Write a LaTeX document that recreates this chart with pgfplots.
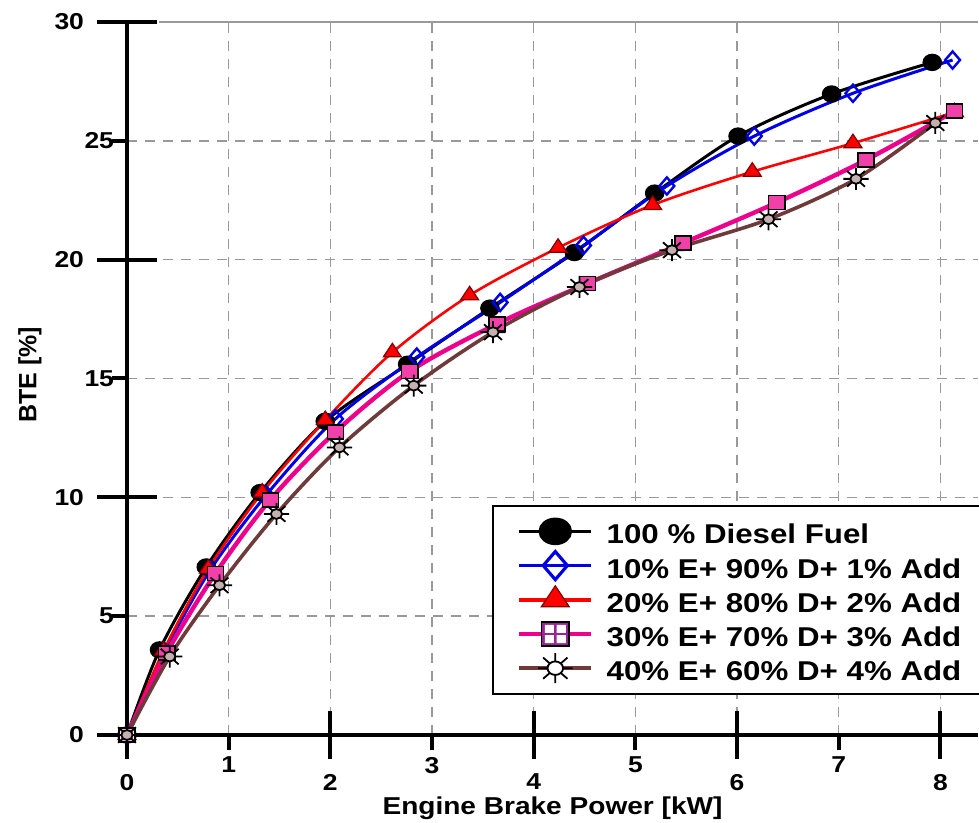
\documentclass[border=0pt]{standalone}
\usepackage{pgfplots}
\pgfplotsset{compat=1.18}
\usepackage{pgfplotstable}
\usepackage{fontspec}
\setmainfont{Liberation Sans}[FakeStretch=1.15]
\newfontfamily\plainsans{Liberation Sans}

\definecolor{bluel}{RGB}{0,0,230}
\definecolor{brownl}{RGB}{110,58,58}
\definecolor{purp}{RGB}{150,40,150}
\colorlet{pane}{magenta!75!white}

% square with four panes
\pgfdeclareplotmark{window}{%
  \pgfpathrectangle{\pgfqpoint{-\pgfplotmarksize}{-\pgfplotmarksize}}{\pgfqpoint{2\pgfplotmarksize}{2\pgfplotmarksize}}%
  \pgfusepathqfillstroke
  \pgfsetfillcolor{pane}%
  \pgfpathrectangle{\pgfqpoint{-0.76\pgfplotmarksize}{-0.76\pgfplotmarksize}}{\pgfqpoint{0.66\pgfplotmarksize}{0.66\pgfplotmarksize}}%
  \pgfpathrectangle{\pgfqpoint{0.1\pgfplotmarksize}{-0.76\pgfplotmarksize}}{\pgfqpoint{0.66\pgfplotmarksize}{0.66\pgfplotmarksize}}%
  \pgfpathrectangle{\pgfqpoint{-0.76\pgfplotmarksize}{0.1\pgfplotmarksize}}{\pgfqpoint{0.66\pgfplotmarksize}{0.66\pgfplotmarksize}}%
  \pgfpathrectangle{\pgfqpoint{0.1\pgfplotmarksize}{0.1\pgfplotmarksize}}{\pgfqpoint{0.66\pgfplotmarksize}{0.66\pgfplotmarksize}}%
  \pgfusepathqfill
}
% circle with rays
\pgfdeclareplotmark{sun}{%
  \pgfpathmoveto{\pgfpointpolar{0}{0.45\pgfplotmarksize}}\pgfpathlineto{\pgfpointpolar{0}{\pgfplotmarksize}}%
  \pgfpathmoveto{\pgfpointpolar{45}{0.45\pgfplotmarksize}}\pgfpathlineto{\pgfpointpolar{45}{\pgfplotmarksize}}%
  \pgfpathmoveto{\pgfpointpolar{90}{0.45\pgfplotmarksize}}\pgfpathlineto{\pgfpointpolar{90}{\pgfplotmarksize}}%
  \pgfpathmoveto{\pgfpointpolar{135}{0.45\pgfplotmarksize}}\pgfpathlineto{\pgfpointpolar{135}{\pgfplotmarksize}}%
  \pgfpathmoveto{\pgfpointpolar{180}{0.45\pgfplotmarksize}}\pgfpathlineto{\pgfpointpolar{180}{\pgfplotmarksize}}%
  \pgfpathmoveto{\pgfpointpolar{225}{0.45\pgfplotmarksize}}\pgfpathlineto{\pgfpointpolar{225}{\pgfplotmarksize}}%
  \pgfpathmoveto{\pgfpointpolar{270}{0.45\pgfplotmarksize}}\pgfpathlineto{\pgfpointpolar{270}{\pgfplotmarksize}}%
  \pgfpathmoveto{\pgfpointpolar{315}{0.45\pgfplotmarksize}}\pgfpathlineto{\pgfpointpolar{315}{\pgfplotmarksize}}%
  \pgfusepathqstroke
  \pgfpathcircle{\pgfpointorigin}{0.45\pgfplotmarksize}%
  \pgfusepathqfillstroke
}

\pgfplotstableread{
x y
0 0
0.32 3.58
0.78 7.07
1.31 10.2
1.95 13.2
2.76 15.6
3.57 17.96
4.40 20.3
5.19 22.8
6.01 25.2
6.93 26.97
7.92 28.3
}\diesel
\pgfplotstableread{
x y
0 0
0.37 3.5
0.82 6.95
1.37 10.1
2.05 13.3
2.85 15.9
3.67 18.2
4.49 20.6
5.31 23.1
6.17 25.2
7.14 27.0
8.12 28.4
}\eten
\pgfplotstableread{
x y
0 0
0.36 3.55
0.80 7.0
1.33 10.2
1.95 13.25
2.61 16.1
3.37 18.5
4.24 20.5
5.17 22.3
6.15 23.7
7.14 24.9
8.14 26.2
}\etwenty
\pgfplotstableread{
x y
0 0
0.39 3.45
0.87 6.8
1.41 9.9
2.05 12.75
2.78 15.3
3.64 17.3
4.53 19.0
5.47 20.7
6.39 22.4
7.27 24.2
8.14 26.25
}\ethirty
\pgfplotstableread{
x y
0 0
0.42 3.3
0.91 6.3
1.47 9.3
2.09 12.1
2.82 14.7
3.60 16.95
4.45 18.85
5.36 20.4
6.31 21.7
7.17 23.4
7.95 25.75
}\eforty

\begin{document}
\begin{tikzpicture}
\useasboundingbox (-63.5pt,-44pt) rectangle (426pt,367.5pt);
\begin{axis}[
  at={(0,0)}, anchor=south west,
  scale only axis,
  width=425.5pt, height=356.5pt,
  xmin=0, xmax=8.37, ymin=0, ymax=30,
  clip=false,
  axis lines=left,
  axis line style={-, line width=2pt},
  xtick={1,2,...,8}, xticklabels={1,,3,,5,,7,},
  ytick={5,10,...,30}, yticklabels={5,,15,,25,},
  extra x ticks={0,2,4,6,8},
  extra y ticks={0,10,20,30},
  tick align=outside,
  major tick length=7.5pt,
  tick style={line width=2pt, black},
  extra x tick style={tick align=center, major tick length=24pt, grid=none,
    xticklabel style={yshift=-4pt}},
  extra y tick style={tick align=center, major tick length=30pt, grid=none,
    yticklabel style={xshift=-7.5pt}},
  grid=major,
  major grid style={gray!80, line width=0.7pt, dash pattern=on 5pt off 4pt},
  ticklabel style={font=\bfseries\fontsize{11.5}{13}\selectfont},
  yticklabel style={xshift=4.5pt},
  /pgf/number format/assume math mode=true,
  xlabel={Engine Brake Power [kW]},
  ylabel={BTE [\%]},
  xlabel style={at={(rel axis cs:0.5,0)}, anchor=base, yshift=-40pt,
    font=\bfseries\fontsize{12.2}{14}\selectfont},
  ylabel style={at={(rel axis cs:0,0.505)}, anchor=center, yshift=48.5pt,
    font=\plainsans\bfseries\fontsize{12.5}{14}\selectfont},
  legend image code/.code={\draw[mark repeat=2,mark phase=2]
    plot coordinates {(0pt,0pt) (18pt,0pt) (36pt,0pt)};},
  legend style={at={(rel axis cs:0.4289,0.3226)}, anchor=north west,
    draw=black, line width=0.9pt, inner xsep=12pt, inner ysep=5pt,
    font=\bfseries\fontsize{13.6}{14}\selectfont,
    nodes={inner sep=1.5pt, text height=12.5pt, text depth=0pt},
    row sep=1.6pt,
    /tikz/every odd column/.append style={column sep=5pt}},
  legend cell align=left,
]
\addplot[black, line width=1.5pt, smooth, mark=*, mark size=3.6pt,
  mark options={xscale=1.15}, forget plot] table {\diesel};
\addplot[bluel, line width=1.5pt, smooth, mark=diamond, mark size=4.3pt,
  mark options={xscale=1.15, line width=1.2pt}, forget plot] table {\eten};
\addplot[red, line width=1.3pt, smooth, mark=triangle*, mark size=4.5pt,
  mark options={xscale=1.15, draw=red!50!black, fill=red, line width=0.6pt}, forget plot] table {\etwenty};
\addplot[magenta, line width=2.2pt, smooth, mark=window, mark size=3.5pt,
  mark options={xscale=1.15, draw=black, fill=white, line width=0.8pt}, forget plot] table {\ethirty};
\addplot[brownl, line width=1.8pt, smooth, mark=sun, mark size=5.5pt,
  mark options={xscale=1.15, draw=black, fill=brownl!40!white, line width=0.9pt}, forget plot] table {\eforty};

\addlegendimage{black, line width=1.8pt, mark=*, mark size=6pt, mark options={xscale=1.25}}
\addlegendentry{100 \% Diesel Fuel}
\addlegendimage{bluel, line width=1.8pt, mark=diamond, mark size=7pt, mark options={xscale=1.15, line width=1.6pt}}
\addlegendentry{10\% E+ 90\% D+ 1\% Add}
\addlegendimage{red, line width=1.8pt, mark=triangle*, mark size=7pt, mark options={xscale=1.15, draw=red!50!black, fill=red, line width=0.6pt}}
\addlegendentry{20\% E+ 80\% D+ 2\% Add}
\addlegendimage{magenta, line width=2.4pt, mark=window, mark size=6pt, mark options={xscale=1.15, draw=black, fill=purp, line width=0.8pt, /utils/exec={\colorlet{pane}{white}}}}
\addlegendentry{30\% E+ 70\% D+ 3\% Add}
\addlegendimage{brownl, line width=2.2pt, mark=sun, mark size=7.5pt, mark options={xscale=1.15, draw=black, fill=white, line width=0.9pt}}
\addlegendentry{40\% E+ 60\% D+ 4\% Add}

\draw[gray!80, line width=1pt] ([xshift=16pt]rel axis cs:0,1) -- (rel axis cs:1,1);
\end{axis}
\end{tikzpicture}
\end{document}
